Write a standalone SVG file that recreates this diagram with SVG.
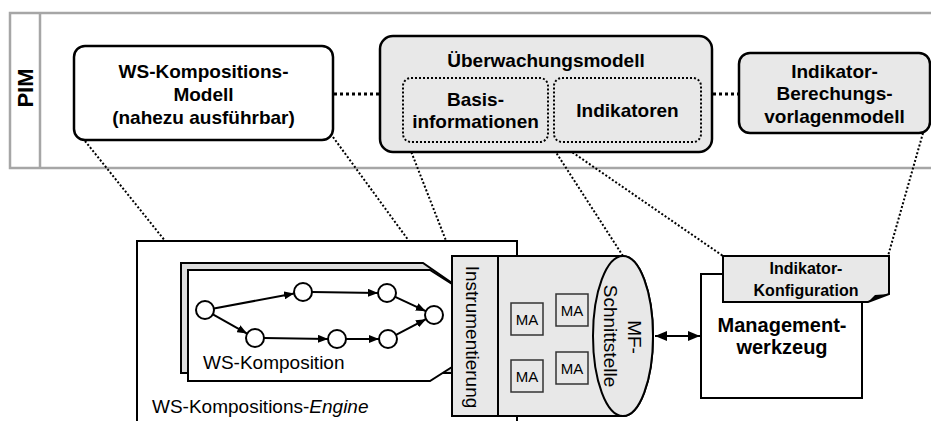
<svg xmlns="http://www.w3.org/2000/svg" width="931" height="421" viewBox="0 0 931 421">
  <style>
    text { font-family: "Liberation Sans", Arial, sans-serif; fill: #000; }
    .b { font-weight: bold; }
    .t19 { font-size: 19px; }
    .mid { text-anchor: middle; }
    .band { fill: none; stroke: #a6a6a6; stroke-width: 2.5; }
    .box { stroke: #000; stroke-width: 2.5; }
    .white { fill: #fff; }
    .gray { fill: #e8e8e8; }
    .thin { stroke: #000; stroke-width: 2; }
    .dotbox { fill: none; stroke: #000; stroke-width: 2; stroke-dasharray: 2 2; }
    .dots { fill: none; stroke: #000; stroke-width: 2; stroke-dasharray: 2 2; }
    .dotsH { fill: none; stroke: #000; stroke-width: 3; stroke-dasharray: 3 3; }
    .edge { fill: none; stroke: #000; stroke-width: 2; marker-end: url(#arrow); }
    .node { fill: #fff; stroke: #000; stroke-width: 2; }
    .ma { fill: #e8e8e8; stroke: #333; stroke-width: 1.5; }
  </style>
  <defs>
    <marker id="arrow" markerUnits="userSpaceOnUse" markerWidth="10" markerHeight="8" refX="10" refY="4" orient="auto">
      <path d="M0,0 L10,4 L0,8 Z" fill="#000"/>
    </marker>
    <marker id="arrowBig" markerUnits="userSpaceOnUse" markerWidth="12" markerHeight="10" refX="12" refY="5" orient="auto-start-reverse">
      <path d="M0,0 L12,5 L0,10 Z" fill="#000"/>
    </marker>
  </defs>

  <!-- PIM layer band -->
  <g id="pim-band">
    <path class="band" d="M931,13 H10 V168 H931 M40,13 V168"/>
    <text class="b mid" font-size="22" transform="translate(33,88) rotate(-90)">PIM</text>
  </g>

  <!-- Dotted trace links -->
  <g id="connectors">
    <line class="dotsH" x1="334" y1="94" x2="380" y2="94"/>
    <line class="dotsH" x1="713" y1="94" x2="739" y2="94"/>
    <line class="dots" x1="85" y1="141" x2="182" y2="262"/>
    <line class="dots" x1="333" y1="137" x2="425" y2="263"/>
    <line class="dots" x1="407" y1="141" x2="452" y2="256"/>
    <line class="dots" x1="548" y1="140" x2="623" y2="256"/>
    <line class="dots" x1="556" y1="141" x2="723" y2="256"/>
    <line class="dots" x1="923" y1="133" x2="888" y2="256"/>
    <line class="thin" x1="655" y1="336" x2="700" y2="336" marker-start="url(#arrowBig)" marker-end="url(#arrowBig)"/>
  </g>

  <g id="ws-model">
    <rect class="box white" x="74" y="46" width="259" height="94" rx="11"/>
    <text class="b t19 mid" x="203.5" y="78">WS-Kompositions-</text>
    <text class="b t19 mid" x="203.5" y="101">Modell</text>
    <text class="b t19 mid" x="203.5" y="124">(nahezu ausführbar)</text>
  </g>

  <g id="monitoring-model">
    <rect class="box gray" x="380" y="36" width="332" height="116" rx="13"/>
    <text class="b t19 mid" x="546" y="67">Überwachungsmodell</text>
  </g>

  <g id="base-info">
    <rect class="dotbox" x="403" y="78" width="145" height="64" rx="8"/>
    <text class="b t19 mid" x="475.5" y="106">Basis-</text>
    <text class="b t19 mid" x="475.5" y="128">informationen</text>
  </g>

  <g id="indicators">
    <rect class="dotbox" x="554" y="78" width="147" height="64" rx="8"/>
    <text class="b t19 mid" x="627.5" y="117">Indikatoren</text>
  </g>

  <g id="indicator-templates">
    <rect class="box gray" x="739" y="53" width="191" height="80" rx="11"/>
    <text class="b t19 mid" x="834.5" y="78">Indikator-</text>
    <text class="b t19 mid" x="834.5" y="100">Berechungs-</text>
    <text class="b t19 mid" x="834.5" y="123">vorlagenmodell</text>
  </g>

  <!-- Runtime: composition engine -->
  <g id="engine">
    <path class="thin" fill="#fff" d="M137,430 V241 H517 V430"/>
    <text class="t19" x="152" y="413">WS-Kompositions-<tspan font-style="italic">Engine</tspan></text>
  </g>

  <g id="ws-composition">
    <path class="thin" fill="#dcdcdc" d="M181,373 V263 H423 L452,283 V373 Z"/>
    <path class="thin" fill="#fff" d="M188,381 V270 H430 L452,284 V367 L430,381 Z"/>
    <line class="edge" x1="213.9" y1="308.4" x2="294.1" y2="293.6"/>
    <line class="edge" x1="212.9" y1="314.4" x2="247.1" y2="333.6"/>
    <line class="edge" x1="312" y1="292.1" x2="378" y2="292.9"/>
    <line class="edge" x1="264" y1="338.1" x2="328" y2="338.9"/>
    <line class="edge" x1="346" y1="339" x2="379" y2="339"/>
    <line class="edge" x1="395.2" y1="296.8" x2="425.8" y2="311.2"/>
    <line class="edge" x1="396" y1="334.8" x2="426" y2="319.2"/>
    <circle class="node" cx="205" cy="310" r="9"/>
    <circle class="node" cx="303" cy="292" r="9"/>
    <circle class="node" cx="255" cy="338" r="9"/>
    <circle class="node" cx="387" cy="293" r="9"/>
    <circle class="node" cx="337" cy="339" r="9"/>
    <circle class="node" cx="388" cy="339" r="9"/>
    <circle class="node" cx="434" cy="315" r="9"/>
    <text class="t19" x="203" y="369" fill="#222">WS-Komposition</text>
  </g>

  <g id="monitoring-component">
    <path class="thin gray" d="M452,256 H623 A30,80 0 0 1 623,416 H452 Z"/>
    <ellipse class="thin gray" cx="623" cy="336" rx="30" ry="80"/>
    <line class="thin" x1="498" y1="256" x2="498" y2="416"/>
    <text class="t19 mid" transform="translate(466,337) rotate(90)">Instrumentierung</text>
    <text class="t19 mid" transform="translate(628,337) rotate(90)">MF-</text>
    <text class="t19 mid" transform="translate(604,336) rotate(90)">Schnittstelle</text>
    <rect class="ma" x="511" y="303" width="32" height="32"/>
    <rect class="ma" x="556" y="294" width="32" height="32"/>
    <rect class="ma" x="511" y="360" width="32" height="32"/>
    <rect class="ma" x="556" y="352" width="32" height="32"/>
    <text class="mid" font-size="15" x="527" y="325">MA</text>
    <text class="mid" font-size="15" x="572" y="316">MA</text>
    <text class="mid" font-size="15" x="527" y="382">MA</text>
    <text class="mid" font-size="15" x="572" y="374">MA</text>
  </g>

  <g id="management-tool">
    <rect class="thin white" x="701" y="274" width="161" height="124"/>
    <text class="b mid" font-size="20" x="782" y="332">Management-</text>
    <text class="b mid" font-size="20" x="782" y="354">werkzeug</text>
  </g>

  <g id="indicator-config">
    <path class="thin gray" d="M723,256 H889 V294 L868,302 H723 Z"/>
    <path d="M868,302 L875,295 L889,294 Z" fill="#000"/>
    <text class="b mid" font-size="16" x="806" y="274">Indikator-</text>
    <text class="b mid" font-size="16" x="806" y="296">Konfiguration</text>
  </g>
</svg>
